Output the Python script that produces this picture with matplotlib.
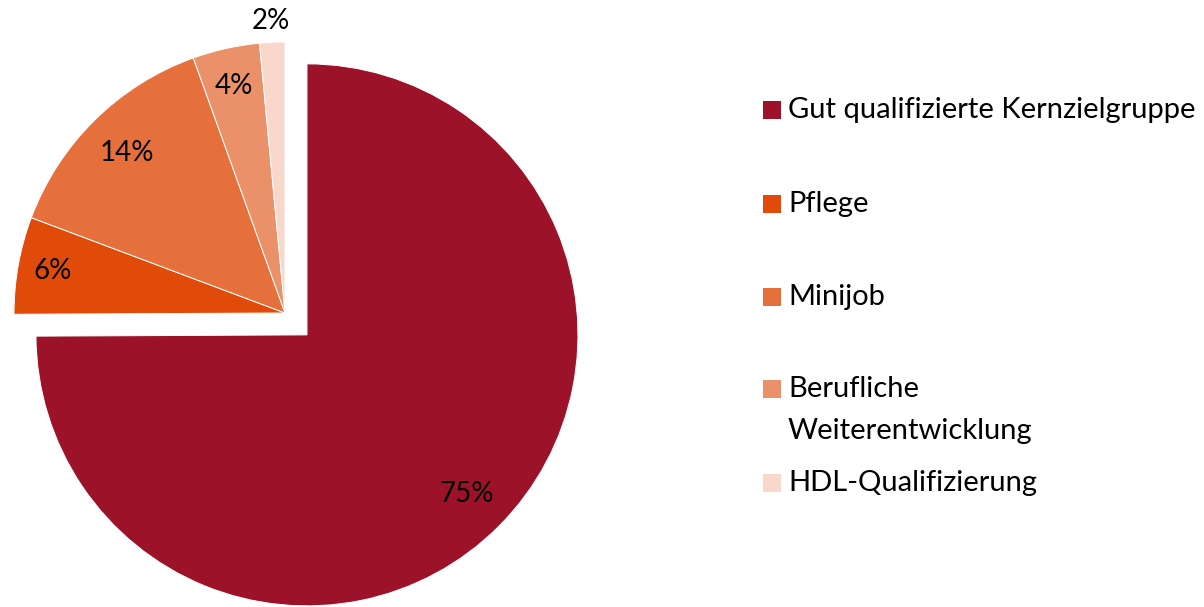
#!/usr/bin/env python3
"""Pie chart: Zielgruppen-Anteile."""

import math

import matplotlib

matplotlib.use("Agg")
import matplotlib.pyplot as plt
from matplotlib.patches import Rectangle

categories = [
    "Gut qualifizierte Kernzielgruppe",
    "Pflege",
    "Minijob",
    "Berufliche\nWeiterentwicklung",
    "HDL-Qualifizierung",
]
shares = [75.0, 5.8, 13.8, 4.0, 1.5]
pct_labels = ["75%", "6%", "14%", "4%", "2%"]
colors = ["#9B1229", "#E04B0A", "#E6703C", "#EB916A", "#F7D8CB"]

# layout (pixel coordinates, y up)
W, H = 1204, 607
CENTER = (285, H - 313)
RADIUS = 271
EXPLODE = [31, 0, 0, 0, 0]
LABEL_DIST = [0.83, 0.87, 0.83, 0.86, 1.08]
LEGEND_X = 763
LEGEND_Y = [110, 204, 297, 389, 483]
FS = 21

plt.rcParams["font.family"] = ["Lato", "DejaVu Sans"]

fig = plt.figure(figsize=(W / 100, H / 100), dpi=100)
ax = fig.add_axes([0, 0, 1, 1])

wedges, _ = ax.pie(
    shares,
    colors=colors,
    startangle=90,
    counterclock=False,
    center=CENTER,
    radius=RADIUS,
    explode=EXPLODE,
    wedgeprops=dict(edgecolor="white", linewidth=0.7),
)

for wedge, text, dist in zip(wedges, pct_labels, LABEL_DIST):
    theta = math.radians((wedge.theta1 + wedge.theta2) / 2)
    cx, cy = wedge.center
    ax.text(
        cx + dist * wedge.r * math.cos(theta),
        cy + dist * wedge.r * math.sin(theta),
        text,
        ha="center",
        va="center",
        fontsize=20,
        color="black",
    )

for label, color, y in zip(categories, colors, LEGEND_Y):
    ax.add_patch(Rectangle((LEGEND_X, H - y - 9), 18, 18, facecolor=color, edgecolor="none"))
    if "\n" in label:
        ax.text(LEGEND_X + 25, H - y + 13, label, ha="left", va="top",
                fontsize=FS, linespacing=1.75, color="black")
    else:
        ax.text(LEGEND_X + 25, H - y, label, ha="left", va="center",
                fontsize=FS, color="black")

ax.set_xlim(0, W)
ax.set_ylim(0, H)
ax.set_aspect("equal")
ax.axis("off")

fig.savefig("out.png", dpi=100)
